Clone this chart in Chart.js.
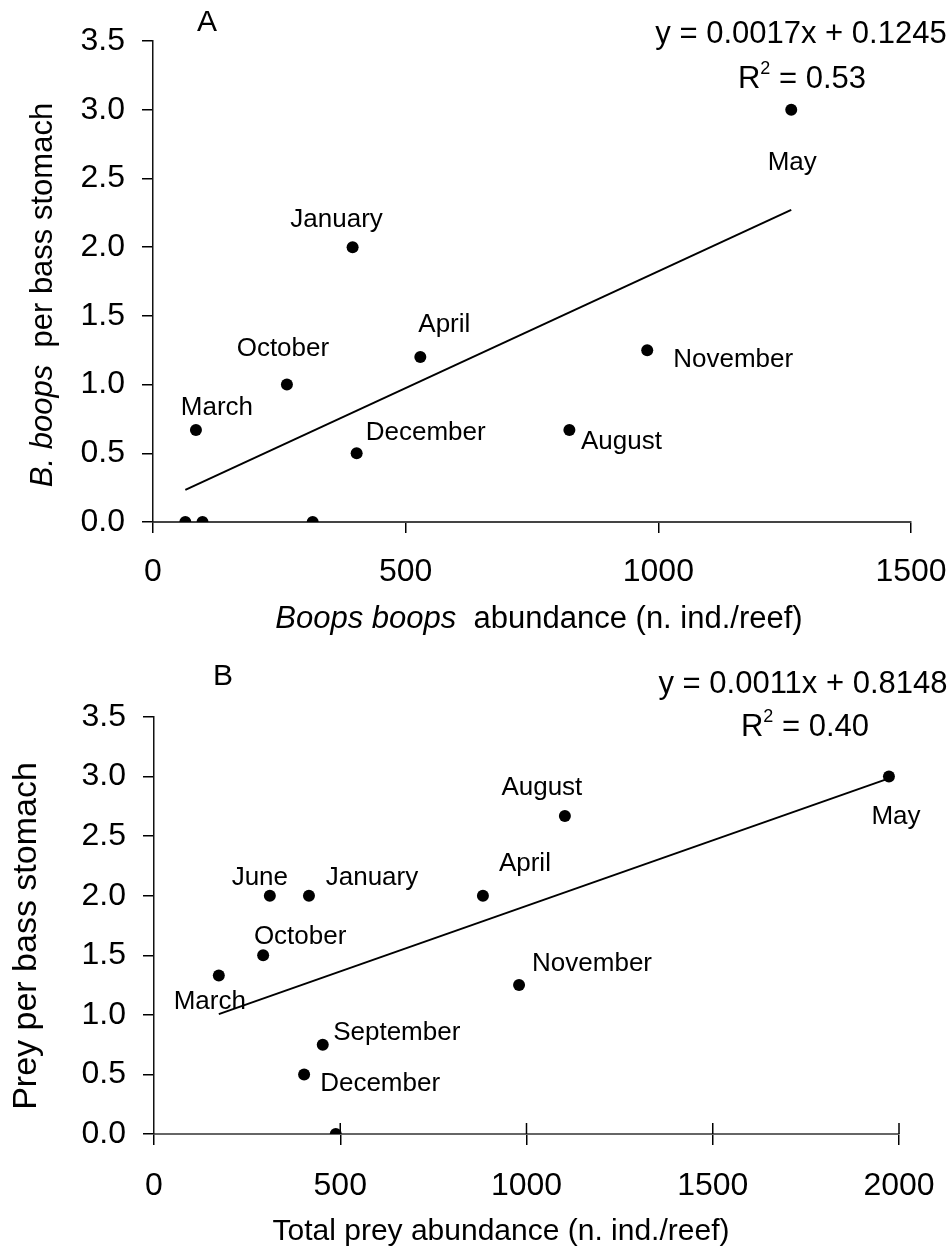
<!DOCTYPE html>
<html>
<head>
<meta charset="utf-8">
<script src="https://cdn.jsdelivr.net/npm/chart.js@4.4.1/dist/chart.umd.min.js"></script>
<style>
  body { margin: 0; background: #fff; }
  canvas { display: block; }
</style>
</head>
<body>
<canvas id="chartA" width="951" height="640"></canvas>
<canvas id="chartB" width="951" height="610"></canvas>
<script>
// Panel A: B. boops found per bass stomach against B. boops abundance
const monthsA = ['January', 'May', 'March', 'October', 'April', 'December', 'November', 'August', '', '', ''];
const boopsAbundance = [395, 1263, 85, 265, 529, 403, 978, 824, 64, 98, 316];
const boopsPerStomach = [2.0, 3.0, 0.67, 1.0, 1.2, 0.5, 1.25, 0.67, 0, 0, 0];
const slopeA = 0.0017, interceptA = 0.1245, r2A = '0.53';

// Panel B: all prey per bass stomach against total prey abundance
const monthsB = ['June', 'January', 'April', 'August', 'May', 'March', 'October', 'September', 'December', 'November', ''];
const preyAbundance = [311, 416, 883, 1103, 1973, 174, 293, 453, 403, 980, 488];
const preyPerStomach = [2.0, 2.0, 2.0, 2.67, 3.0, 1.33, 1.5, 0.75, 0.5, 1.25, 0];
const slopeB = 0.0011, interceptB = 0.8148, r2B = '0.40';

const yTicks = [0, 0.5, 1, 1.5, 2, 2.5, 3, 3.5];
const xTicksA = [0, 500, 1000, 1500];
const xTicksB = [0, 500, 1000, 1500, 2000];

// where each month label sits relative to its dot (px)
const offsetsA = [[-16, -27], [1, 53], [21, -22], [-4, -36], [24, -32], [69, -20], [86, 10], [52, 12], [0, 0], [0, 0], [0, 0]];
const offsetsB = [[-10, -18], [63, -18], [42, -32], [-23, -28], [7, 40], [-9, 26], [37, -18], [74, -12], [76, 9], [73, -21], [0, 0]];

const FONT = '"Liberation Sans", Arial, sans-serif';
const f = (size, italic) => (italic ? 'italic ' : '') + size + 'px ' + FONT;

// draws a line of text made of runs with different fonts, centred on (x, y)
function drawRuns(ctx, runs, x, y, rotate) {
  ctx.save();
  ctx.translate(x, y);
  if (rotate) ctx.rotate(-Math.PI / 2);
  ctx.fillStyle = '#000';
  ctx.textAlign = 'left';
  ctx.textBaseline = 'middle';
  const widths = runs.map(r => { ctx.font = r.font; return ctx.measureText(r.text).width; });
  let cx = -widths.reduce((a, b) => a + b, 0) / 2;
  runs.forEach((r, i) => {
    ctx.font = r.font;
    ctx.fillText(r.text, cx, r.dy || 0);
    cx += widths[i];
  });
  ctx.restore();
}

function makeNotes(labels, offsets, texts, innerTicks) {
  return {
    id: 'notes',
    afterDatasetsDraw(chart) {
      const ctx = chart.ctx;
      const meta = chart.getDatasetMeta(1);
      ctx.save();
      ctx.fillStyle = '#000';
      ctx.font = f(26);
      ctx.textAlign = 'center';
      ctx.textBaseline = 'middle';
      labels.forEach((txt, i) => {
        if (!txt) return;
        const p = meta.data[i];
        ctx.fillText(txt, p.x + offsets[i][0], p.y + offsets[i][1]);
      });
      if (innerTicks) {
        // x ticks of panel B also poke up into the plot
        const xs = chart.scales.x;
        ctx.strokeStyle = '#000';
        ctx.lineWidth = 1.5;
        xs.ticks.forEach(t => {
          if (t.value === 0) return;
          const px = xs.getPixelForValue(t.value);
          ctx.beginPath();
          ctx.moveTo(px, chart.chartArea.bottom);
          ctx.lineTo(px, chart.chartArea.bottom - 11);
          ctx.stroke();
        });
      }
      ctx.restore();
      texts.forEach(t => drawRuns(ctx, t.runs, t.x, t.y, t.rotate));
    }
  };
}

function buildChart(id, xs, ys, slope, intercept, opt) {
  const points = xs.map((x, i) => ({ x: x, y: ys[i] }));
  const x0 = Math.min(...xs), x1 = Math.max(...xs);
  const fit = [x0, x1].map(x => ({ x: x, y: slope * x + intercept }));
  return new Chart(document.getElementById(id), {
    type: 'scatter',
    data: {
      datasets: [
        { type: 'line', data: fit, borderColor: '#000', borderWidth: 2, pointRadius: 0, fill: false },
        { data: points, backgroundColor: '#000', borderWidth: 0, pointRadius: 6 }
      ]
    },
    options: {
      responsive: false,
      animation: false,
      devicePixelRatio: 1,
      layout: { padding: opt.padding },
      plugins: { legend: { display: false }, tooltip: { enabled: false } },
      scales: {
        x: {
          type: 'linear', min: 0, max: opt.xTicks[opt.xTicks.length - 1],
          afterBuildTicks: s => { s.ticks = opt.xTicks.map(v => ({ value: v })); },
          afterFit: s => { s.height = opt.xHeight; s.paddingLeft = 0; s.paddingRight = 0; },
          grid: { drawOnChartArea: false, tickLength: 11, tickColor: '#000', lineWidth: 1.5 },
          border: { color: opt.xBorder, width: 2 },
          ticks: { color: '#000', font: { family: FONT, size: 32 }, padding: opt.xPad, maxRotation: 0, callback: v => String(v) }
        },
        y: {
          min: 0, max: 3.5,
          afterBuildTicks: s => { s.ticks = yTicks.map(v => ({ value: v })); },
          afterFit: s => { s.width = opt.yWidth; s.paddingTop = 0; s.paddingBottom = 0; },
          grid: { drawOnChartArea: false, tickLength: 11, tickColor: '#000', lineWidth: 1.5 },
          border: { color: '#111', width: 1.5 },
          ticks: { color: '#000', font: { family: FONT, size: 32 }, padding: 17, callback: v => v.toFixed(1) }
        }
      }
    },
    plugins: [makeNotes(opt.labels, opt.offsets, opt.texts, opt.innerTicks)]
  });
}

buildChart('chartA', boopsAbundance, boopsPerStomach, slopeA, interceptA, {
  padding: { top: 41, right: 40, left: 0, bottom: 0 },
  xTicks: xTicksA, xHeight: 118, yWidth: 153, xPad: 20, xBorder: '#444',
  labels: monthsA, offsets: offsetsA, innerTicks: false,
  texts: [
    { runs: [{ text: 'A', font: f(30) }], x: 207, y: 23 },
    { runs: [{ text: 'y = ' + slopeA + 'x + ' + interceptA, font: f(31) }], x: 801, y: 34 },
    { runs: [{ text: 'R', font: f(31) }, { text: '2', font: f(18), dy: -10 }, { text: ' = ' + r2A, font: f(31) }], x: 802, y: 79 },
    { runs: [{ text: 'Boops boops', font: f(31, true) }, { text: '  abundance (n. ind./reef)', font: f(31) }], x: 539, y: 619 },
    { runs: [{ text: 'B. boops', font: f(31, true) }, { text: '  per bass stomach', font: f(31) }], x: 43, y: 295, rotate: true }
  ]
});

buildChart('chartB', preyAbundance, preyPerStomach, slopeB, interceptB, {
  padding: { top: 77, right: 52, left: 0, bottom: 0 },
  xTicks: xTicksB, xHeight: 116, yWidth: 154, xPad: 22, xBorder: '#666',
  labels: monthsB, offsets: offsetsB, innerTicks: true,
  texts: [
    { runs: [{ text: 'B', font: f(30) }], x: 223, y: 37 },
    { runs: [{ text: 'y = ' + slopeB + 'x + ' + interceptB, font: f(31) }], x: 803, y: 44 },
    { runs: [{ text: 'R', font: f(31) }, { text: '2', font: f(18), dy: -10 }, { text: ' = ' + r2B, font: f(31) }], x: 805, y: 87 },
    { runs: [{ text: 'Total prey abundance (n. ind./reef)', font: f(30) }], x: 501, y: 592 },
    { runs: [{ text: 'Prey per bass stomach', font: f(34) }], x: 27, y: 296, rotate: true }
  ]
});
</script>
</body>
</html>
